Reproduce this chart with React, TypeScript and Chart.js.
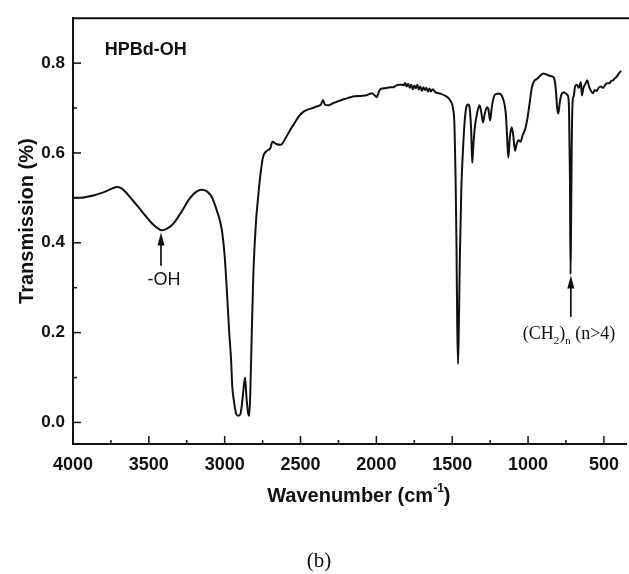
import React, { useEffect, useRef } from "react";
import { Chart, registerables } from "chart.js";

Chart.register(...registerables);

// Wavenumber (cm-1), descending
const WAVENUMBERS = [
  4000, 3950, 3900, 3860, 3820, 3780, 3740, 3710, 3680, 3650, 3620, 3590, 3560, 3530, 3500, 3470, 3440, 3415, 3390, 3360,
  3330, 3300, 3270, 3240, 3210, 3180, 3150, 3120, 3090, 3070, 3050, 3030, 3015, 3000, 2985, 2970, 2958, 2950, 2940, 2925,
  2910, 2895, 2880, 2866, 2855, 2845, 2838, 2830, 2820, 2810, 2795, 2780, 2765, 2748, 2720, 2700, 2685, 2660, 2630, 2600,
  2570, 2540, 2510, 2480, 2450, 2420, 2390, 2365, 2352, 2340, 2320, 2290, 2260, 2230, 2200, 2170, 2140, 2100, 2060, 2030,
  2010, 1996, 1985, 1970, 1940, 1910, 1890, 1870, 1850, 1830, 1820, 1810, 1800, 1790, 1780, 1770, 1760, 1750, 1740, 1730,
  1720, 1710, 1700, 1690, 1680, 1670, 1660, 1650, 1640, 1630, 1610, 1590, 1570, 1550, 1530, 1510, 1495, 1485, 1478, 1472,
  1467, 1462, 1457, 1450, 1440, 1430, 1418, 1405, 1395, 1385, 1375, 1368, 1360, 1350, 1335, 1320, 1308, 1297, 1285, 1270,
  1262, 1250, 1240, 1225, 1205, 1185, 1170, 1155, 1145, 1136, 1130, 1120, 1108, 1098, 1086, 1075, 1062, 1050, 1035, 1020,
  1005, 990, 975, 960, 940, 920, 900, 880, 860, 840, 828, 818, 808, 800, 792, 780, 765, 750, 738, 730,
  724, 720, 716, 712, 705, 700, 690, 678, 665, 652, 645, 635, 620, 610, 598, 585, 573, 560, 548, 535,
  520, 505, 490, 478, 465, 452, 440, 428, 415, 405, 395, 385,
];

// Transmission values
const TRANSMISSION = [
  0.5, 0.5, 0.503, 0.506, 0.51, 0.515, 0.521, 0.524, 0.521, 0.512, 0.5, 0.488, 0.476, 0.463, 0.451, 0.44, 0.432, 0.428, 0.43, 0.436,
  0.446, 0.461, 0.477, 0.494, 0.507, 0.515, 0.518, 0.515, 0.505, 0.49, 0.47, 0.447, 0.42, 0.37, 0.29, 0.2, 0.14, 0.08, 0.05, 0.02,
  0.015, 0.02, 0.06, 0.1, 0.05, 0.02, 0.015, 0.08, 0.22, 0.34, 0.44, 0.5, 0.55, 0.59, 0.605, 0.61, 0.625, 0.62, 0.618, 0.632,
  0.65, 0.666, 0.682, 0.692, 0.697, 0.7, 0.704, 0.708, 0.718, 0.708, 0.706, 0.71, 0.714, 0.718, 0.721, 0.724, 0.726, 0.727, 0.729, 0.733,
  0.728, 0.724, 0.735, 0.743, 0.744, 0.746, 0.746, 0.75, 0.752, 0.752, 0.75, 0.756, 0.748, 0.754, 0.745, 0.752, 0.742, 0.75, 0.744, 0.752,
  0.741, 0.748, 0.738, 0.746, 0.74, 0.745, 0.736, 0.743, 0.737, 0.742, 0.735, 0.733, 0.731, 0.728, 0.724, 0.715, 0.7, 0.66, 0.55, 0.4,
  0.22, 0.13, 0.2, 0.36, 0.52, 0.6, 0.67, 0.705, 0.708, 0.7, 0.65, 0.578, 0.62, 0.66, 0.69, 0.706, 0.69, 0.668, 0.688, 0.702,
  0.698, 0.672, 0.7, 0.725, 0.732, 0.732, 0.725, 0.708, 0.68, 0.62, 0.59, 0.635, 0.657, 0.64, 0.605, 0.62, 0.628, 0.625, 0.64, 0.652,
  0.675, 0.71, 0.745, 0.76, 0.765, 0.772, 0.777, 0.775, 0.772, 0.77, 0.766, 0.745, 0.7, 0.688, 0.71, 0.73, 0.735, 0.732, 0.728, 0.7,
  0.55, 0.33, 0.45, 0.62, 0.72, 0.725, 0.748, 0.752, 0.745, 0.758, 0.728, 0.745, 0.755, 0.762, 0.748, 0.738, 0.733, 0.74, 0.738, 0.745,
  0.748, 0.745, 0.752, 0.755, 0.755, 0.76, 0.762, 0.766, 0.77, 0.775, 0.78, 0.782,
];

const X_TICKS = [4000, 3500, 3000, 2500, 2000, 1500, 1000, 500];
const X_MINOR = [3750, 3250, 2750, 2250, 1750, 1250, 750];
const Y_TICKS = [0, 0.2, 0.4, 0.6, 0.8];
const Y_MINOR = [0.1, 0.3, 0.5, 0.7];

const X_MIN = 350;
const X_MAX = 4000;
const Y_MIN = -0.048;
const Y_MAX = 0.9;

const SAMPLE_LABEL = "HPBd-OH";
const OH_LABEL = "-OH";
const X_TITLE = "Wavenumber (cm";
const X_TITLE_SUP = "-1";
const Y_TITLE = "Transmission (%)";
const CAPTION = "(b)";

// annotation anchors in data coordinates
const SAMPLE_LABEL_AT = { wn: 3790, t: 0.83 };
const OH_ARROW = { wn: 3420, tip: 0.423, tail: 0.349 };
const OH_LABEL_AT = { wn: 3400, t: 0.318 };
const CH2_ARROW = { wn: 718, tip: 0.327, tail: 0.235 };
const CH2_LABEL_AT = { wn: 730, t: 0.2 };

const SANS = "'Liberation Sans', Arial, sans-serif";
const SERIF = "'Liberation Serif', 'Times New Roman', serif";

function drawArrow(ctx: CanvasRenderingContext2D, x: number, yTip: number, yTail: number) {
  ctx.save();
  ctx.strokeStyle = "#111";
  ctx.fillStyle = "#111";
  ctx.lineWidth = 1.7;
  ctx.beginPath();
  ctx.moveTo(x, yTail);
  ctx.lineTo(x, yTip + 10);
  ctx.stroke();
  ctx.beginPath();
  ctx.moveTo(x, yTip);
  ctx.lineTo(x - 3.5, yTip + 13);
  ctx.lineTo(x + 3.5, yTip + 13);
  ctx.closePath();
  ctx.fill();
  ctx.restore();
}

const decorPlugin = {
  id: "decor",
  beforeDraw(chart: any) {
    const ctx = chart.ctx;
    ctx.save();
    ctx.fillStyle = "#fff";
    ctx.fillRect(0, 0, chart.width, chart.height);
    ctx.restore();
  },
  afterDraw(chart: any) {
    const ctx: CanvasRenderingContext2D = chart.ctx;
    const xs = chart.scales.x;
    const ys = chart.scales.y;
    const area = chart.chartArea;
    ctx.save();
    ctx.strokeStyle = "#111";
    // top frame line
    ctx.lineWidth = 2;
    ctx.beginPath();
    ctx.moveTo(area.left, area.top);
    ctx.lineTo(chart.width, area.top);
    ctx.stroke();
    // inward ticks
    ctx.lineWidth = 1.5;
    const tick = (vals: number[], len: number, axis: "x" | "y") => {
      vals.forEach((v) => {
        ctx.beginPath();
        if (axis === "x") {
          const px = xs.getPixelForValue(v);
          ctx.moveTo(px, area.bottom);
          ctx.lineTo(px, area.bottom - len);
        } else {
          const py = ys.getPixelForValue(v);
          ctx.moveTo(area.left, py);
          ctx.lineTo(area.left + len, py);
        }
        ctx.stroke();
      });
    };
    tick(X_TICKS, 8, "x");
    tick(X_MINOR, 4, "x");
    tick(Y_TICKS, 8, "y");
    tick(Y_MINOR, 4, "y");

    ctx.fillStyle = "#111";
    // sample label
    ctx.font = `bold 18px ${SANS}`;
    ctx.textAlign = "left";
    ctx.textBaseline = "middle";
    ctx.fillText(SAMPLE_LABEL, xs.getPixelForValue(SAMPLE_LABEL_AT.wn), ys.getPixelForValue(SAMPLE_LABEL_AT.t));

    // -OH arrow & label
    drawArrow(ctx, xs.getPixelForValue(OH_ARROW.wn), ys.getPixelForValue(OH_ARROW.tip), ys.getPixelForValue(OH_ARROW.tail));
    ctx.font = `18px ${SANS}`;
    ctx.textAlign = "center";
    ctx.fillText(OH_LABEL, xs.getPixelForValue(OH_LABEL_AT.wn), ys.getPixelForValue(OH_LABEL_AT.t));

    // (CH2)n arrow & label
    drawArrow(ctx, xs.getPixelForValue(CH2_ARROW.wn), ys.getPixelForValue(CH2_ARROW.tip), ys.getPixelForValue(CH2_ARROW.tail));
    const parts: [string, boolean][] = [
      ["(CH", false],
      ["2", true],
      [")", false],
      ["n", true],
      [" (n>4)", false],
    ];
    const mainFont = `18px ${SERIF}`;
    const subFont = `11px ${SERIF}`;
    let total = 0;
    parts.forEach(([t, sub]) => {
      ctx.font = sub ? subFont : mainFont;
      total += ctx.measureText(t).width;
    });
    let cx = xs.getPixelForValue(CH2_LABEL_AT.wn) - total / 2;
    const baseY = ys.getPixelForValue(CH2_LABEL_AT.t) + 6;
    ctx.textAlign = "left";
    ctx.textBaseline = "alphabetic";
    parts.forEach(([t, sub]) => {
      ctx.font = sub ? subFont : mainFont;
      ctx.fillText(t, cx, sub ? baseY + 5 : baseY);
      cx += ctx.measureText(t).width;
    });

    // x axis title with superscript
    ctx.font = `bold 20px ${SANS}`;
    const w1 = ctx.measureText(X_TITLE).width;
    ctx.font = `bold 12px ${SANS}`;
    const w2 = ctx.measureText(X_TITLE_SUP).width;
    ctx.font = `bold 20px ${SANS}`;
    const w3 = ctx.measureText(")").width;
    const tw = w1 + w2 + w3;
    let tx = (area.left + area.right) / 2 + 9 - tw / 2;
    const ty = area.bottom + 58;
    ctx.fillText(X_TITLE, tx, ty);
    tx += w1;
    ctx.font = `bold 12px ${SANS}`;
    ctx.fillText(X_TITLE_SUP, tx, ty - 10);
    tx += w2;
    ctx.font = `bold 20px ${SANS}`;
    ctx.fillText(")", tx, ty);

    // y axis title
    ctx.save();
    ctx.translate(27, (area.top + area.bottom) / 2 - 10);
    ctx.rotate(-Math.PI / 2);
    ctx.textAlign = "center";
    ctx.textBaseline = "middle";
    ctx.font = `bold 20px ${SANS}`;
    ctx.fillText(Y_TITLE, 0, 0);
    ctx.restore();

    // caption
    ctx.font = `21px ${SERIF}`;
    ctx.textAlign = "center";
    ctx.textBaseline = "middle";
    ctx.fillText(CAPTION, 319, 561);
    ctx.restore();
  },
};

export default function App() {
  const ref = useRef<HTMLCanvasElement | null>(null);
  useEffect(() => {
    if (!ref.current) return;
    const data = WAVENUMBERS.map((w, i) => ({ x: w, y: TRANSMISSION[i] }));
    const chart = new Chart(ref.current, {
      type: "line",
      data: {
        datasets: [
          {
            data,
            borderColor: "#111",
            borderWidth: 2,
            pointRadius: 0,
            fill: false,
            cubicInterpolationMode: "monotone",
          },
        ],
      },
      options: {
        animation: false,
        responsive: false,
        devicePixelRatio: 1,
        parsing: false as any,
        layout: { padding: { top: 12, right: 2, left: 0, bottom: 0 } },
        plugins: { legend: { display: false }, tooltip: { enabled: false } },
        scales: {
          x: {
            type: "linear",
            reverse: true,
            min: X_MIN,
            max: X_MAX,
            grid: { display: false, drawTicks: false },
            border: { display: true, color: "#111", width: 2 },
            afterBuildTicks: (s: any) => {
              s.ticks = X_TICKS.map((v) => ({ value: v }));
            },
            afterFit: (s: any) => {
              s.height = 130;
            },
            ticks: {
              color: "#111",
              padding: 10,
              maxRotation: 0,
              autoSkip: false,
              font: { family: SANS, size: 18, weight: "bold" },
              callback: (v: any) => String(v),
            },
          },
          y: {
            type: "linear",
            min: Y_MIN,
            max: Y_MAX,
            grid: { display: false, drawTicks: false },
            border: { display: true, color: "#111", width: 2 },
            afterBuildTicks: (s: any) => {
              s.ticks = Y_TICKS.map((v) => ({ value: v }));
            },
            afterFit: (s: any) => {
              s.width = 73;
            },
            ticks: {
              color: "#111",
              padding: 8,
              autoSkip: false,
              font: { family: SANS, size: 17, weight: "bold" },
              callback: (v: any) => Number(v).toFixed(1),
            },
          },
        },
      },
      plugins: [decorPlugin],
    });
    return () => chart.destroy();
  }, []);
  return (
    <div style={{ position: "fixed", left: 0, top: 0, width: 629, height: 574, background: "#fff" }}>
      <canvas ref={ref} width={629} height={574} style={{ width: 629, height: 574, display: "block" }} />
    </div>
  );
}
